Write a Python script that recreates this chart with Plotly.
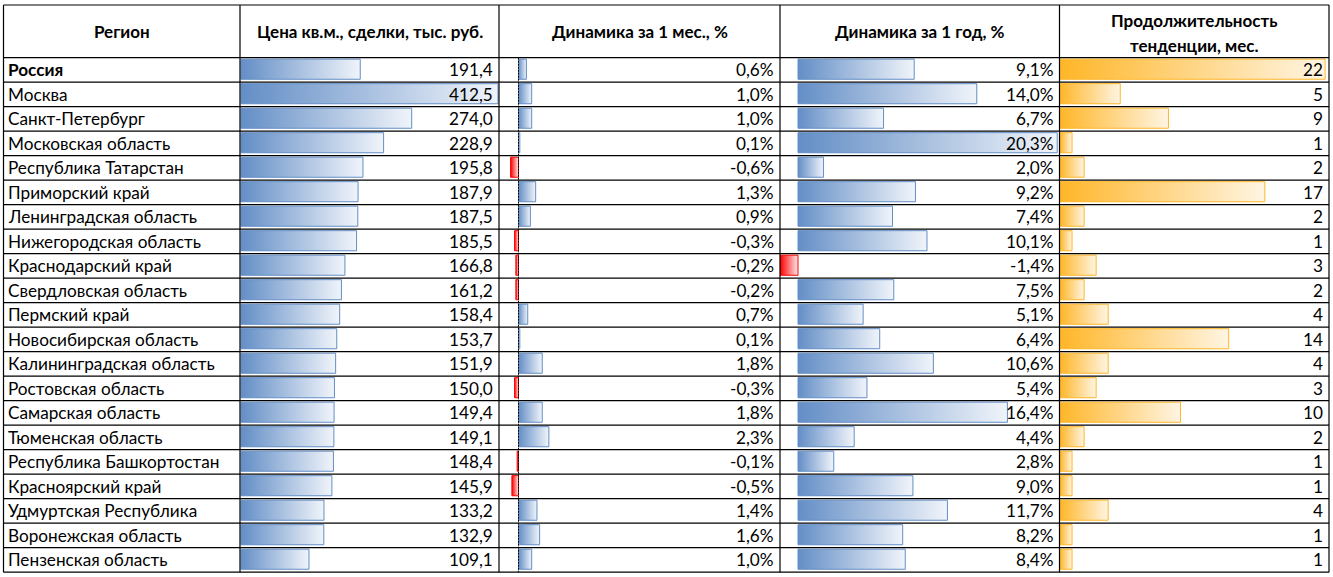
import plotly.graph_objects as go

regions = ["Россия", "Москва", "Санкт-Петербург", "Московская область", "Республика Татарстан",
           "Приморский край", "Ленинградская область", "Нижегородская область", "Краснодарский край",
           "Свердловская область", "Пермский край", "Новосибирская область", "Калининградская область",
           "Ростовская область", "Самарская область", "Тюменская область", "Республика Башкортостан",
           "Красноярский край", "Удмуртская Республика", "Воронежская область", "Пензенская область"]
price = [191.4, 412.5, 274.0, 228.9, 195.8, 187.9, 187.5, 185.5, 166.8, 161.2, 158.4,
         153.7, 151.9, 150.0, 149.4, 149.1, 148.4, 145.9, 133.2, 132.9, 109.1]
month_chg = [0.6, 1.0, 1.0, 0.1, -0.6, 1.3, 0.9, -0.3, -0.2, -0.2, 0.7,
             0.1, 1.8, -0.3, 1.8, 2.3, -0.1, -0.5, 1.4, 1.6, 1.0]
year_chg = [9.1, 14.0, 6.7, 20.3, 2.0, 9.2, 7.4, 10.1, -1.4, 7.5, 5.1,
            6.4, 10.6, 5.4, 16.4, 4.4, 2.8, 9.0, 11.7, 8.2, 8.4]
trend_months = [22, 5, 9, 1, 2, 17, 2, 1, 3, 2, 4, 14, 4, 3, 10, 2, 1, 1, 4, 1, 1]

headers = ["Регион", "Цена кв.м., сделки, тыс. руб.", "Динамика за 1 мес., %",
           "Динамика за 1 год, %", ["Продолжительность", "тенденции, мес."]]

W, H = 1333, 577
ROW_H = 24.5
TOP = 57.7          # pixel y of the first data row
HEAD_TOP = 5.0
edges = [3.5, 240, 499, 780, 1059.5, 1329]
# (pixel of zero, pixels per unit) for each bar column
scales = [(241, 0.623), (518.5, 13.2), (798, 12.77), (1060, 12.05)]

FONT = "Lato"
BLUE, ORANGE, RED = "#638ec6", "#ffb628", "#ff0000"


def py(p):
    return (p - TOP) / ROW_H - 0.5


n = len(regions)
fig = go.Figure()

columns = [price, month_chg, year_chg, trend_months]
for k, vals in enumerate(columns):
    xa = "x" if k == 0 else f"x{k + 1}"
    for i, v in enumerate(vals):
        if k == 3:
            c = ORANGE
            light = "#fff5e3"
        elif v < 0:
            c = RED
            light = "#ffe8e8"
        else:
            c = BLUE
            light = "#f0f4fa"
        y0, y1 = i - 0.44, i + 0.38
        fig.add_trace(go.Scatter(
            x=[0, v, v, 0, 0], y=[y0, y0, y1, y1, y0],
            xaxis=xa, yaxis="y", mode="lines", fill="toself",
            line=dict(color=c, width=1),
            fillgradient=dict(type="horizontal", colorscale=[[0, c], [1, light]]),
            hoverinfo="skip", showlegend=False))

layout = dict(
    width=W, height=H, margin=dict(l=0, r=0, t=0, b=0),
    paper_bgcolor="white", plot_bgcolor="white", showlegend=False,
    yaxis=dict(range=[py(H), py(0)], visible=False, fixedrange=True),
)
for k, (o, s) in enumerate(scales):
    L, R = edges[k + 1], edges[k + 2]
    key = "xaxis" if k == 0 else f"xaxis{k + 1}"
    layout[key] = dict(domain=[L / W, R / W], range=[(L - o) / s, (R - o) / s],
                       visible=False, fixedrange=True, anchor="y")
fig.update_layout(**layout)

# table grid
shapes = []
for j in range(n + 1):
    shapes.append(dict(type="line", xref="paper", yref="y", x0=edges[0] / W, x1=edges[-1] / W,
                       y0=j - 0.5, y1=j - 0.5, line=dict(color="black", width=1.2)))
shapes.append(dict(type="line", xref="paper", yref="y", x0=edges[0] / W, x1=edges[-1] / W,
                   y0=py(HEAD_TOP), y1=py(HEAD_TOP), line=dict(color="black", width=1.2)))
for e in edges:
    shapes.append(dict(type="line", xref="paper", yref="y", x0=e / W, x1=e / W,
                       y0=py(HEAD_TOP), y1=n - 0.5, line=dict(color="black", width=1.2)))
# axis of the monthly column
shapes.append(dict(type="line", xref="x2", yref="y", x0=0, x1=0, y0=-0.5, y1=n - 0.5,
                   line=dict(color="black", width=1, dash="2px,1px")))
fig.update_layout(shapes=shapes)

ann = []
font = dict(family=FONT, size=17.2, color="black")
bold = dict(family=FONT, size=17, color="black", weight="bold")

for k, h in enumerate(headers):
    xc = (edges[k] + edges[k + 1]) / 2 / W
    if isinstance(h, list):
        for t, p in zip(h, [20, 45]):
            ann.append(dict(x=xc, y=py(p), xref="paper", yref="y", text=t, showarrow=False,
                            font=bold, xanchor="center", yanchor="middle"))
    else:
        ann.append(dict(x=xc, y=py(31), xref="paper", yref="y", text=h, showarrow=False,
                        font=bold, xanchor="center", yanchor="middle"))


def fmt(v, suffix=""):
    return f"{v:.1f}".replace(".", ",") + suffix


for i in range(n):
    ann.append(dict(x=6 / W, y=i, xref="paper", yref="y", text=regions[i], showarrow=False,
                    font=dict(font, weight="bold") if i == 0 else font,
                    xanchor="left", yanchor="middle"))
    texts = [fmt(price[i]), fmt(month_chg[i], "%"), fmt(year_chg[i], "%"), str(trend_months[i])]
    for k, t in enumerate(texts):
        ann.append(dict(x=(edges[k + 2] - 4) / W, y=i, xref="paper", yref="y", text=t,
                        showarrow=False, font=font, xanchor="right", yanchor="middle"))

fig.update_layout(annotations=ann)
fig.write_html("out.html", config={"displayModeBar": False},
               post_script="document.body.style.margin='0';")
